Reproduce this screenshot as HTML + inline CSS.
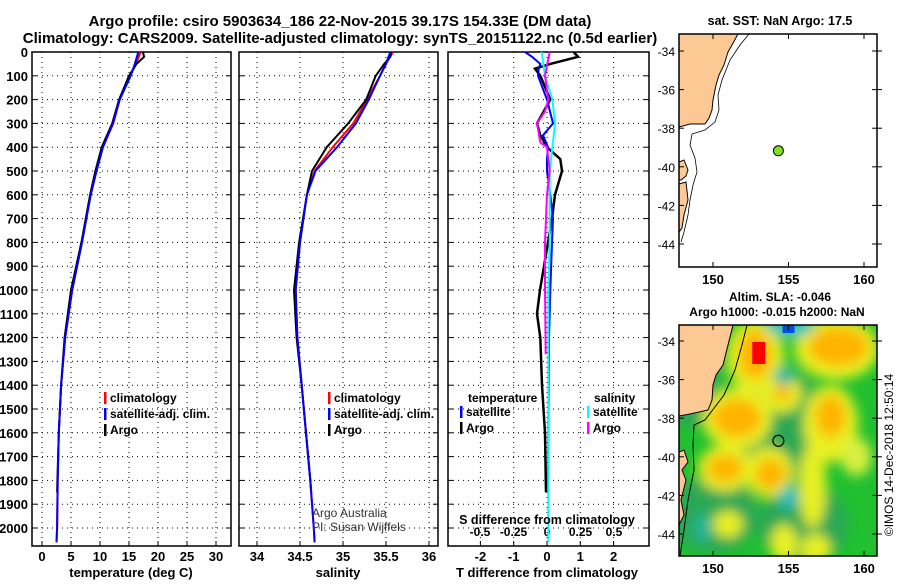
<!DOCTYPE html>
<html><head><meta charset="utf-8"><style>
body{margin:0;background:#fff;}
svg text{font-family:"Liberation Sans",sans-serif;}
</style></head><body>
<svg id="c" width="900" height="580" xmlns="http://www.w3.org/2000/svg">
<defs>
<filter id="blur" x="-50%" y="-50%" width="200%" height="200%"><feGaussianBlur stdDeviation="6"/></filter>
<clipPath id="m2clip"><rect x="679" y="325" width="198" height="231"/></clipPath>
<clipPath id="m1clip"><rect x="679" y="34" width="198" height="233"/></clipPath>
</defs>
<text x="340" y="26" text-anchor="middle" font-size="15" font-weight="bold">Argo profile: csiro 5903634_186 22-Nov-2015 39.17S 154.33E (DM data)</text>
<text x="340" y="43" text-anchor="middle" font-size="15" font-weight="bold">Climatology: CARS2009. Satellite-adjusted climatology: synTS_20151122.nc (0.5d earlier)</text>
<g id="plots"></g>
</svg>
<script>
const NS='http://www.w3.org/2000/svg';
const svg=document.getElementById('c');
const root=document.getElementById('plots');
// ---- data ----
const depthTicks=[0,100,200,300,400,500,600,700,800,900,1000,1100,1200,1300,1400,1500,1600,1700,1800,1900,2000];
const tempTicks=[0,5,10,15,20,25,30];
const salTicks=[34,34.5,35,35.5,36];
const tdiffTicks=[-2,-1,0,1,2];
const sdiffTicks=[-0.5,-0.25,0,0.25,0.5];
const sdiffTickLabels=['-0.5','-0.25','0','0.25','0.5'];
const profDepths=[0,20,50,100,200,300,400,500,600,800,1000,1200,1400,1600,1800,1850];
const argoTemp=[17.4,17.6,16.3,15.0,13.3,12.1,10.3,9.2,8.3,6.8,5.0,3.9,3.3,2.9,2.65,2.6];
const argoSal=[35.56,35.55,35.48,35.38,35.27,35.06,34.81,34.64,34.58,34.49,34.43,34.46,34.52,34.57,34.62,34.63];
const climDepths=[0,50,100,200,300,400,500,600,800,1000,1200,1400,1600,1800,2000,2060];
const climTemp=[17.0,16.2,15.2,13.4,12.3,10.5,9.4,8.4,6.9,5.2,4.0,3.3,2.9,2.7,2.6,2.5];
const climSal=[35.58,35.5,35.43,35.28,35.12,34.88,34.67,34.58,34.5,34.45,34.47,34.52,34.57,34.62,34.66,34.67];
const satTemp=[16.6,16.0,15.3,13.4,12.2,10.5,9.4,8.4,6.9,5.2,4.0,3.3,2.9,2.7,2.6,2.5];
const satSal=[35.55,35.5,35.43,35.3,35.15,34.93,34.68,34.58,34.5,34.45,34.47,34.52,34.57,34.62,34.66,34.67];
const diffDepths=[0,20,50,70,100,200,300,350,400,450,500,600,700,800,1000,1100,1200,1400,1600,1850];
const argoTdiff=[0.8,0.93,0.1,-0.36,-0.2,0.1,-0.3,-0.2,0,0.4,0.45,0.24,0.15,0.03,-0.21,-0.3,-0.2,-0.15,-0.06,-0.03];
const satTdiff=[-0.66,-0.45,-0.2,-0.25,-0.27,0,0.18,-0.12,0.03,0,0,0.1,0.18,0.15,0.1,0.08,0.06,0.05,0.04,0.03];
const sDiffDepths=[0,100,200,250,300,380,400,500,600,800,1000,1270];
const argoSdiff=[0.02,-0.015,0.01,-0.015,-0.075,-0.05,0,0.02,0,-0.015,-0.015,-0.01];
const satSDepths=[0,100,200,300,400,500,800,1000,1500,2060];
const satSdiff=[-0.04,-0.015,0.04,0.06,0.04,0.02,0.02,0.01,0.01,0.01];
const argoLon=154.33, argoLat=-39.17;
const mapLonTicks=[150,155,160];
const mapLatTicks=[-34,-36,-38,-40,-42,-44];
// ---- helpers ----
function el(tag,attrs,parent){const e=document.createElementNS(NS,tag);for(const k in attrs)e.setAttribute(k,attrs[k]);(parent||root).appendChild(e);return e;}
function txt(x,y,s,attrs,parent){const t=el('text',Object.assign({x:x,y:y,'font-size':13,'font-weight':'bold'},attrs||{}),parent);t.textContent=s;return t;}
const yD=d=>52+d*0.238;
const PB=546;
function panel(x0,x1,name,xs,ticks,labels,leftLabels){
  const g=el('g',{});
  
  
  depthTicks.forEach(d=>{
    const y=yD(d);
    el('line',{x1:x0,x2:x1,y1:y,y2:y,stroke:'#000','stroke-dasharray':'1,4','stroke-width':1},g);
    el('line',{x1:x0,x2:x0+5,y1:y,y2:y,stroke:'#000'},g);
    el('line',{x1:x1-5,x2:x1,y1:y,y2:y,stroke:'#000'},g);
    if(leftLabels){const t=txt(x0-4,y+5,String(d),{'text-anchor':'end'},g);}
  });
  ticks.forEach((v,i)=>{
    const x=xs(v);
    el('line',{x1:x,x2:x,y1:52,y2:PB,stroke:'#000','stroke-dasharray':'1,4'},g);
    el('line',{x1:x,x2:x,y1:PB-5,y2:PB,stroke:'#000'},g);
    const t=txt(x,561,labels?labels[i]:String(v),{'text-anchor':'middle'},g);
    
  });
  el('rect',{x:x0,y:52,width:x1-x0,height:PB-52,fill:'none',stroke:'#000','stroke-width':1.5},g);
  return g;
}
function line(xs,vals,deps,color,name,w){
  const pts=vals.map((v,i)=>xs(v).toFixed(1)+','+yD(deps[i]).toFixed(1)).join(' ');
  const p=el('polyline',{points:pts,fill:'none',stroke:color,'stroke-width':w||2});
  
  
  return p;
}
function legend(x,y,items){
  items.forEach((it,i)=>{
    el('rect',{x:x,y:y+i*16-10,width:2.5,height:12,fill:it[1]});
    const t=txt(x+6,y+i*16,it[0],{'font-size':12});
    
  });
}
// panel 1
const xT=v=>42+v*5.8;
panel(32,231,'temperature-panel',xT,tempTicks,null,true);
line(xT,climTemp,climDepths,'#f00','temp-climatology');
line(xT,argoTemp,profDepths,'#000','temp-argo');
line(xT,satTemp,climDepths,'#00f','temp-satellite');
{const t=txt(131,577,'temperature (deg C)',{'text-anchor':'middle'});}
legend(104,402,[['climatology','#f00'],['satellite-adj. clim.','#00f'],['Argo','#000']]);
// panel 2
const xS=v=>257+(v-34)*86;
panel(239,438,'salinity-panel',xS,salTicks,null,false);
line(xS,climSal,climDepths,'#f00','sal-climatology');
line(xS,argoSal,profDepths,'#000','sal-argo');
line(xS,satSal,climDepths,'#00f','sal-satellite');
{const t=txt(338,577,'salinity',{'text-anchor':'middle'});}
legend(328,402,[['climatology','#f00'],['satellite-adj. clim.','#00f'],['Argo','#000']]);
{const t=txt(312,517,'Argo Australia',{'font-size':12,'font-weight':'normal',fill:'#333'});
 const t2=txt(312,531,'PI: Susan Wijffels',{'font-size':12,'font-weight':'normal',fill:'#333'});}
// panel 3
const xTd=v=>547+v*33.3;
const xSd=v=>547+v*134;
panel(448,649,'difference-panel',xTd,tdiffTicks,null,false);
sdiffTicks.forEach((v,i)=>{const t=txt(xSd(v),536,sdiffTickLabels[i],{'text-anchor':'middle','font-size':12});});
line(xTd,argoTdiff,diffDepths,'#000','tdiff-argo',2.5);
line(xTd,satTdiff,diffDepths,'#00f','tdiff-satellite');
line(xSd,satSdiff,satSDepths,'#0ff','sdiff-satellite');
line(xSd,argoSdiff,sDiffDepths,'#f0f','sdiff-argo');
{const t=txt(547,577,'T difference from climatology',{'text-anchor':'middle'});
 const t2=txt(547,524,'S difference from climatology',{'text-anchor':'middle','font-size':12.5});}
{const t=txt(468,402,'temperature',{'font-size':12});
 const t2=txt(594,402,'salinity',{'font-size':12});}
legend(460,416,[['satellite','#00f'],['Argo','#000']]);
legend(587,416,[['satellite','#0ff'],['Argo','#f0f']]);
// maps
const mx=lon=>713+(lon-150)*15.1;
function mapFrame(y0,y1,latY,name){
  const g=el('g',{});
  
  el('rect',{x:679,y:y0,width:198,height:y1-y0,fill:'none',stroke:'#000','stroke-width':1.5},g);
  mapLonTicks.forEach(l=>{el('line',{x1:mx(l),x2:mx(l),y1:y1-5,y2:y1,stroke:'#000'},g);el('line',{x1:mx(l),x2:mx(l),y1:y0,y2:y0+5,stroke:'#000'},g);
    const t=txt(mx(l),y1+17,String(l),{'text-anchor':'middle'},g);});
  mapLatTicks.forEach(l=>{const y=latY(l);el('line',{x1:872,x2:882,y1:y,y2:y,stroke:'#000'},g);el('line',{x1:679,x2:684,y1:y,y2:y,stroke:'#000'},g);
    const t=txt(675,y+5,String(l),{'font-size':12,'font-weight':'normal','text-anchor':'end'},g);
    });
  return g;
}
// map1
const my1=lat=>51+(-34-lat)*19.3;
{const g=el('g',{'clip-path':'url(#m1clip)'});
 el('rect',{x:679,y:34,width:198,height:233,fill:'#fff'},g);
 el('polygon',{points:'679,34 738,34 732,45 728,52 724,65 719,75 716,85 713,100 712,110 709,118 705,124 690,124 679,127',fill:'#fcc994',stroke:'#000','stroke-width':1},g);
 el('polygon',{points:'679,162 684,160 688,170 686,176 681,180 679,180',fill:'#fcc994',stroke:'#000','stroke-width':1},g);
 el('polygon',{points:'679,184 686,182 688,200 684,215 682,228 679,232',fill:'#fcc994',stroke:'#000','stroke-width':1},g);
 el('polyline',{points:'749,34 740,45 730,60 722,80 718,95 719,110 715,122 705,130 692,134 690,145 695,158 697,172 693,185 690,200 688,215 684,232 681,242',fill:'none',stroke:'#000','stroke-width':0.8},g);
 const dot=el('circle',{cx:mx(argoLon),cy:my1(argoLat),r:5,fill:'#80e020',stroke:'#000'},g);
 }
mapFrame(34,267,my1,'sst-map-axes');
{const t=txt(780,25,'sat. SST: NaN Argo: 17.5',{'text-anchor':'middle','font-size':12.5});}
// map2
const my2=lat=>341+(-34-lat)*19.3;
const blobs=[ // lon,lat,rx(deg),ry(deg),color
 [148.5,-35.5,2,3,'#2aa855'],[154.5,-38.5,3,3,'#2aa855'],[150,-43,3,2,'#2aa855'],[156,-43.5,3,2,'#2aa855'],
 [152.8,-34.8,1.9,1.9,'#e8f020'],[151.6,-38,2.3,1.6,'#e8f020'],[150.8,-40.6,1.8,1.2,'#e8f020'],[153.7,-40.8,1.6,1.3,'#e8f020'],
 [157.8,-38.3,1.8,2,'#e8f020'],[158.2,-34.4,2.8,1.6,'#e8f020'],[154.6,-36.7,1.3,1,'#e8f020'],[156.6,-41.5,0.9,2.2,'#e8f020'],
 [154.7,-44.5,0.9,1,'#e8f020'],[156.8,-44.8,1,0.8,'#e8f020'],[151,-43.5,1,0.7,'#e8f020'],[159.5,-40,1,1,'#d8f040'],
 [152.8,-34.7,1.1,1.3,'#ffb400'],[151.6,-38,1.6,1,'#ffb400'],[150.8,-40.6,1.2,0.7,'#ffb400'],[153.8,-40.9,1,0.8,'#ffb400'],
 [157.8,-37.9,1,1.1,'#ffb400'],[158.3,-34.3,2,1,'#ffb400'],[154.6,-36.7,0.6,0.4,'#ffb400'],
 [155.1,-33.2,1.6,0.6,'#20c0c0'],[155,-42.1,0.6,0.6,'#20c0c0'],[149.3,-43.7,0.5,0.7,'#20b8a0'],[154.7,-35.8,0.7,0.5,'#20b8a0']];
{const g=el('g',{'clip-path':'url(#m2clip)'});
 el('rect',{x:679,y:325,width:198,height:231,fill:'#20c030'},g);
 const bg=el('g',{filter:'url(#blur)'},g);
 blobs.forEach(b=>{const e=el('ellipse',{cx:mx(b[0]),cy:my2(b[1]),rx:b[2]*15.1,ry:b[3]*19.3,fill:b[4]},bg);});
 el('rect',{x:mx(155)-6,y:325,width:12,height:8,fill:'#0050e0'},g);
 el('rect',{x:mx(152.6),y:my2(-34.05),width:13,height:22,fill:'#ff0000'},g);
 el('polygon',{points:'679,325 733,325 728,345 723,365 716,375 713,385 712,400 708,410 690,414 679,416',fill:'#fcc994',stroke:'#000','stroke-width':1},g);
 el('polygon',{points:'679,452 684,450 688,462 682,470 686,480 681,500 684,515 679,525',fill:'#fcc994',stroke:'#000','stroke-width':1},g);
 el('polyline',{points:'747,325 742,345 735,370 724,395 705,420 694,425 693,445 694,470 688,500 684,530 680,556',fill:'none',stroke:'#000','stroke-width':1},g);
 const c=el('circle',{cx:mx(argoLon),cy:my2(argoLat),r:5.5,fill:'none',stroke:'#000','stroke-width':1.2},g);
 }
mapFrame(325,556,my2,'sla-map-axes');
{const t=txt(780,301,'Altim. SLA: -0.046',{'text-anchor':'middle','font-size':12});
 const t2=txt(777,316,'Argo h1000: -0.015 h2000: NaN',{'text-anchor':'middle','font-size':12});
 const t3=txt(0,0,'©IMOS 14-Dec-2018 12:50:14',{'font-size':12,'font-weight':'normal','text-anchor':'middle',transform:'translate(893,455) rotate(-90)'});}
</script>
</body></html>
